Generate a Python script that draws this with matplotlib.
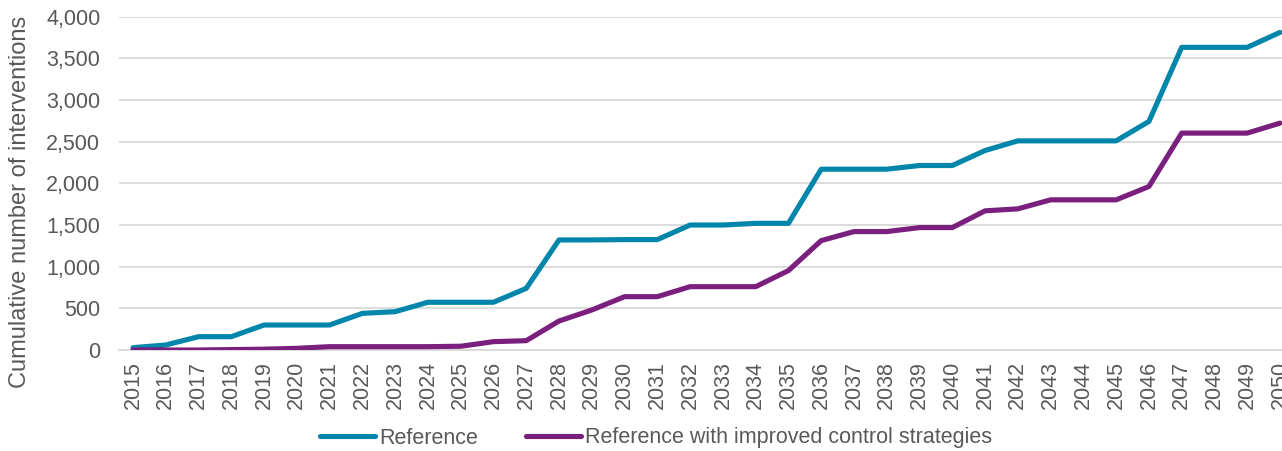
import matplotlib
matplotlib.use("Agg")
import matplotlib.pyplot as plt
from matplotlib.ticker import FuncFormatter

plt.rcParams['font.family'] = ['Liberation Sans', 'DejaVu Sans']

years = list(range(2015, 2051))
reference = [28, 60, 160, 160, 300, 300, 300, 440, 460, 573, 573, 573, 740,
             1321, 1321, 1325, 1325, 1500, 1500, 1520, 1520, 2170, 2170, 2170,
             2214, 2214, 2394, 2510, 2510, 2510, 2510, 2743, 3632, 3632, 3632, 3812]
improved = [0, 0, 0, 5, 10, 20, 40, 40, 40, 40, 45, 100, 112,
            348, 480, 640, 640, 760, 760, 760, 953, 1313, 1421, 1421,
            1469, 1469, 1670, 1694, 1802, 1802, 1802, 1962, 2603, 2603, 2603, 2723]
series_labels = ["Reference", "Reference with improved control strategies"]
ylabel = "Cumulative number of interventions"

teal = "#0086AA"
purple = "#7A1F7D"
text_color = "#595959"

W, H = 1282, 451
fig = plt.figure(figsize=(W / 100, H / 100), dpi=100)
ax_w = 1282 - 119
ax = fig.add_axes([119 / W, (H - 350) / H, ax_w / W, (350 - 16.7) / H])

ax.plot(years, reference, color=teal, lw=3.7, solid_capstyle='round', solid_joinstyle='round',
        label=series_labels[0], zorder=3)
ax.plot(years, improved, color=purple, lw=3.7, solid_capstyle='round', solid_joinstyle='round',
        label=series_labels[1], zorder=3)

ax.set_ylim(0, 4000)
ax.set_yticks(range(0, 4001, 500))
ax.yaxis.set_major_formatter(FuncFormatter(lambda v, p: f"{int(v):,}"))
ax.set_xlim(2015 - 14 / 32.77, 2050 + 2 / 32.77)
ax.set_xticks(years)
ax.set_xticklabels([str(y) for y in years], rotation=90)

ax.grid(axis='y', color='#D9D9D9', lw=1.3)
ax.set_axisbelow(True)
for s in ['top', 'right', 'left']:
    ax.spines[s].set_visible(False)
ax.spines['bottom'].set_color('#D9D9D9')
ax.spines['bottom'].set_linewidth(1.3)
ax.tick_params(axis='both', length=0, colors=text_color, labelsize=15.5)
ax.tick_params(axis='y', pad=13.5)
ax.tick_params(axis='x', pad=8)

ax.set_ylabel(ylabel, color=text_color, fontsize=17)
ax.yaxis.set_label_coords((31 - 119) / ax_w, (350 - 202) / 333.3)

leg = fig.legend(loc='center', bbox_to_anchor=(656 / W, (H - 438) / H), ncol=2, frameon=False,
                 fontsize=15.5, handlelength=2.55, handletextpad=0.2, columnspacing=2.2,
                 borderpad=0, borderaxespad=0)
for t in leg.get_texts():
    t.set_color(text_color)

fig.savefig("out.png", dpi=100)
